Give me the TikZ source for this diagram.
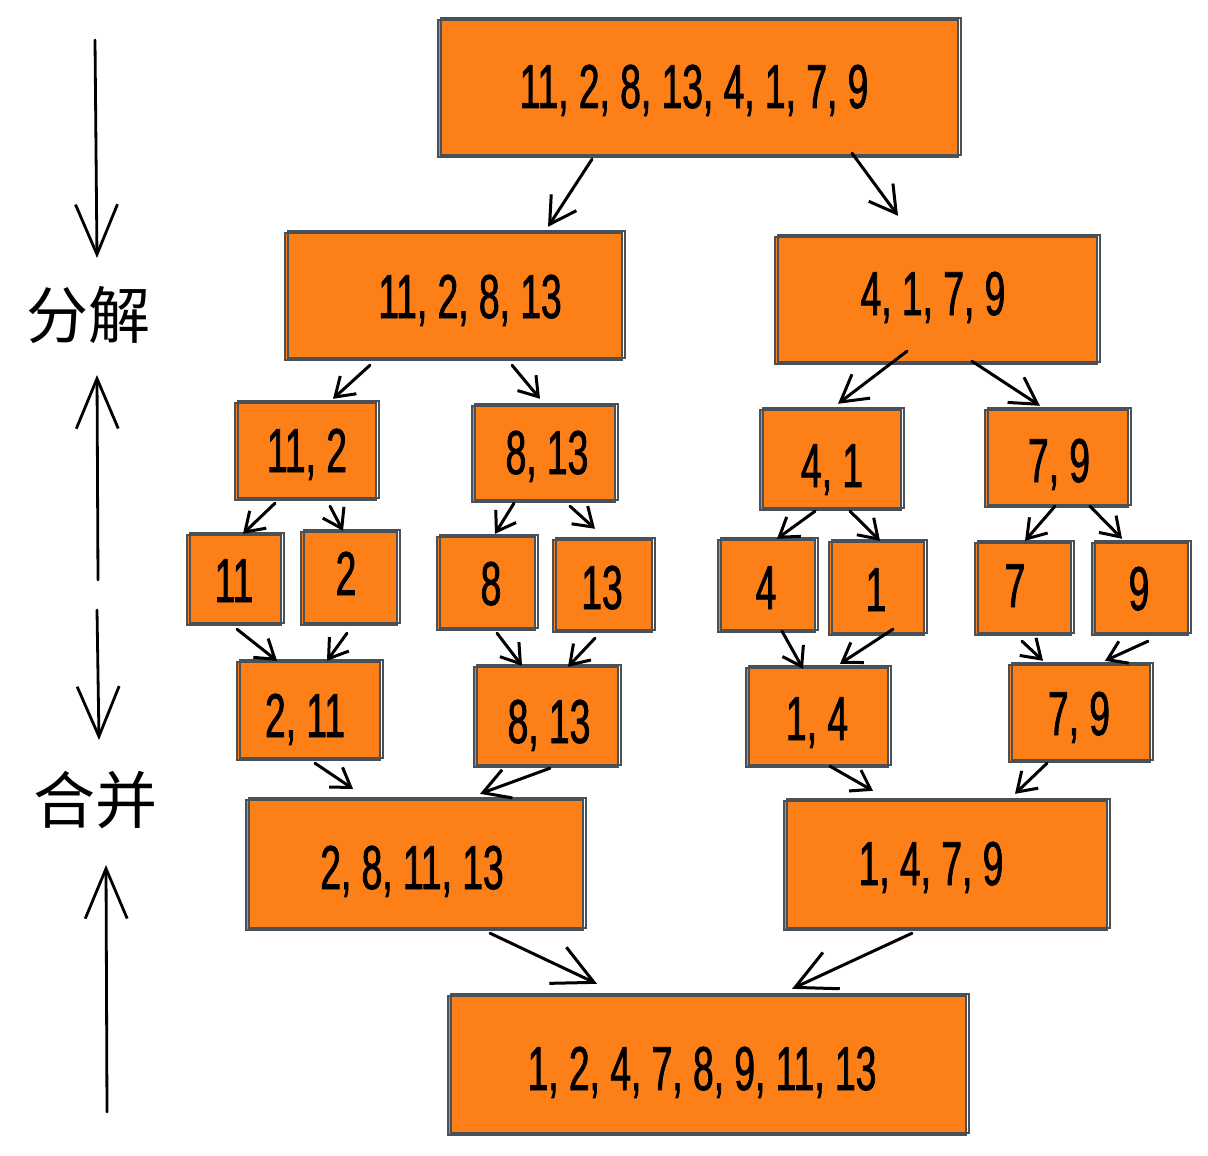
\documentclass[tikz,border=0pt]{standalone}
\usepackage{fontspec}
\usetikzlibrary{calc,fit,arrows.meta}
\newfontfamily\hand[FakeStretch=0.6,FakeBold=1.2]{Liberation Sans}
\newfontfamily\cjk{Noto Sans CJK SC}
\definecolor{boxfill}{HTML}{FD7F17}
\definecolor{edge}{HTML}{495057}
\tikzset{
  blk/.style={fill=boxfill, draw=edge, line width=1.2pt, inner sep=0pt,
    postaction={draw=edge, line width=0.8pt, transform canvas={shift={(1.4pt,1.1pt)}}}},
  num/.style={font=\hand\fontsize{31}{31}\selectfont, text height=22pt, text depth=0pt,
    inner sep=0pt, anchor=center},
  zh/.style={font=\cjk\fontsize{31}{31}\selectfont, inner sep=0pt},
  arrS/.style={line width=1.5pt, line cap=round, -{Straight Barb[length=9pt,width=12pt,line width=1.5pt]}},
  arrM/.style={line width=1.5pt, line cap=round, -{Straight Barb[length=13pt,width=15pt,line width=1.5pt]}},
  arrL/.style={line width=1.5pt, line cap=round, -{Straight Barb[length=20pt,width=20pt,line width=1.5pt]}},
  side/.style={line width=1.4pt, line cap=round, -{Straight Barb[length=25pt,width=21pt,line width=1.4pt]}},
}
\begin{document}
\begin{tikzpicture}[x=0.5pt,y=-0.5pt]
\useasboundingbox (0,0) rectangle (1208,1155);

% boxes
\node[blk, fit={(438,20) (958,157)}] (top) {};
\node[blk, fit={(285,233) (622,360)}] (a) {};
\node[blk, fit={(775,237) (1097,364)}] (b) {};
\node[blk, fit={(235,403) (376,500)}] (c1) {};
\node[blk, fit={(472,406) (615,502)}] (c2) {};
\node[blk, fit={(760,410) (901,510)}] (c3) {};
\node[blk, fit={(985,410) (1128,507)}] (c4) {};
\node[blk, fit={(187,535) (281,625)}] (d1) {};
\node[blk, fit={(301,532) (397,625)}] (d2) {};
\node[blk, fit={(437,537) (535,630)}] (d3) {};
\node[blk, fit={(553,540) (652,632)}] (d4) {};
\node[blk, fit={(718,540) (815,632)}] (d5) {};
\node[blk, fit={(829,542) (924,635)}] (d6) {};
\node[blk, fit={(975,543) (1071,635)}] (d7) {};
\node[blk, fit={(1092,543) (1188,635)}] (d8) {};
\node[blk, fit={(237,662) (380,760)}] (e1) {};
\node[blk, fit={(474,667) (618,767)}] (e2) {};
\node[blk, fit={(746,668) (888,767)}] (e3) {};
\node[blk, fit={(1009,665) (1150,762)}] (e4) {};
\node[blk, fit={(246,800) (583,930)}] (f1) {};
\node[blk, fit={(784,801) (1107,930)}] (f2) {};
\node[blk, fit={(448,996) (966,1135)}] (g) {};

% numbers
\node[num] (ttop) at (694,86) {11, 2, 8, 13, 4, 1, 7, 9};
\node[num] (ta) at (470,296) {11, 2, 8, 13};
\node[num] (tb) at (933,293) {4, 1, 7, 9};
\node[num] (tc1) at (307,450) {11, 2};
\node[num] (tc2) at (547,452) {8, 13};
\node[num] (tc3) at (832,465) {4, 1};
\node[num] (tc4) at (1059,460) {7, 9};
\node[num] (td1) at (234,580) {11};
\node[num] (td2) at (346,573) {2};
\node[num] (td3) at (491,583) {8};
\node[num] (td4) at (602,587) {13};
\node[num] (td5) at (766,587) {4};
\node[num] (td6) at (876,589) {1};
\node[num] (td7) at (1015,585) {7};
\node[num] (td8) at (1139,588) {9};
\node[num] (te1) at (305,715) {2, 11};
\node[num] (te2) at (549,721) {8, 13};
\node[num] (te3) at (817,718) {1, 4};
\node[num] (te4) at (1079,713) {7, 9};
\node[num] (tf1) at (412,867) {2, 8, 11, 13};
\node[num] (tf2) at (931,863) {1, 4, 7, 9};
\node[num] (tg) at (702,1068) {1, 2, 4, 7, 8, 9, 11, 13};

% split arrows
\draw[arrM] ($(top.south)+(-106,1)$) -- ($(a.north)+(94.5,-5)$);
\draw[arrM] ($(top.south)+(154,-5)$) -- ($(b.north)+(-38,-20)$);
\draw[arrS] ($(a.south)+(-83.5,4)$) -- ($(c1.north)+(27.5,-3)$);
\draw[arrS] ($(a.south)+(58.5,4)$) -- ($(c2.north)+(-3.5,-6)$);
\draw[arrM] ($(b.south)+(-29,-14)$) -- ($(c3.north)+(7.5,-5)$);
\draw[arrM] ($(b.south)+(36,-4)$) -- ($(c4.north)+(-16.5,-3)$);
\draw[arrS] ($(c1.south)+(-30.5,2)$) -- ($(d1.north)+(9,0)$);
\draw[arrS] ($(c1.south)+(24.5,5)$) -- ($(d2.north)+(-6,0)$);
\draw[arrS] ($(c2.south)+(-29.5,0)$) -- ($(d3.north)+(9,-2)$);
\draw[arrS] ($(c2.south)+(26.5,3)$) -- ($(d4.north)+(-7.5,-10)$);
\draw[arrS] ($(c3.south)+(-15.5,0)$) -- ($(d5.north)+(10.5,0)$);
\draw[arrS] ($(c3.south)+(19.5,0)$) -- ($(d6.north)+(3.5,0)$);
\draw[arrS] ($(c4.south)+(-1.5,-2)$) -- ($(d7.north)+(2,-1)$);
\draw[arrS] ($(c4.south)+(33.5,-2)$) -- ($(d8.north)+(-18,-3)$);

% merge arrows
\draw[arrS] ($(d1.south)+(3,3)$) -- ($(e1.north)+(-31.5,0)$);
\draw[arrS] ($(d2.south)+(-2,7)$) -- ($(e1.north)+(18.5,0)$);
\draw[arrS] ($(d3.south)+(11,2)$) -- ($(e2.north)+(-24,0)$);
\draw[arrS] ($(d4.south)+(-7.5,5)$) -- ($(e2.north)+(22,1)$);
\draw[arrS] ($(d5.south)+(15.5,-2)$) -- ($(e3.north)+(-14,2)$);
\draw[arrS] ($(d6.south)+(16.5,-7)$) -- ($(e3.north)+(23,-3)$);
\draw[arrS] ($(d7.south)+(-1,5)$) -- ($(e4.north)+(-36.5,-3)$);
\draw[arrS] ($(d8.south)+(8,5)$) -- ($(e4.north)+(25.5,-3)$);
\draw[arrS] ($(e1.south)+(6.5,2)$) -- ($(f1.north)+(-61.5,-10)$);
\draw[arrM] ($(e2.south)+(4,0)$) -- ($(f1.north)+(65.5,-5)$);
\draw[arrS] ($(e3.south)+(13,-2)$) -- ($(f2.north)+(-72.5,-9)$);
\draw[arrS] ($(e4.south)+(-32.5,0)$) -- ($(f2.north)+(69.5,-6)$);
\draw[arrL] ($(f1.south)+(75.5,2)$) -- ($(g.north)+(-110,-11)$);
\draw[arrL] ($(f2.south)+(-33.5,2)$) -- ($(g.north)+(85,-6)$);

% side labels and arrows
\node[zh] (split) at (88,315) {分解};
\node[zh] (merge) at (95,800) {合并};
\coordinate (s1) at (95,40);
\coordinate (s2) at (98,580);
\coordinate (s3) at (97,610);
\coordinate (s4) at (107,1112);
\draw[side] (s1) -- ($(split)+(9,-57)$);
\draw[side] (s2) -- ($(split)+(9,60)$);
\draw[side] (s3) -- ($(merge)+(4,-60)$);
\draw[side] (s4) -- ($(merge)+(11,65)$);
\end{tikzpicture}
\end{document}
